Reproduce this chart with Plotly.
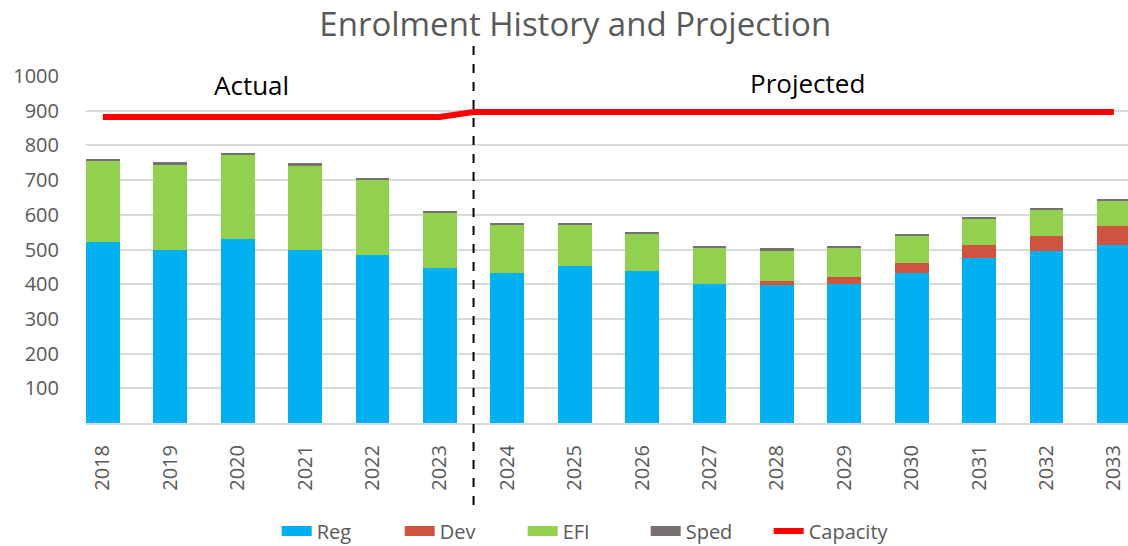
import plotly.graph_objects as go

years = [2018, 2019, 2020, 2021, 2022, 2023, 2024, 2025,
         2026, 2027, 2028, 2029, 2030, 2031, 2032, 2033]
reg = [522, 500, 529, 500, 484, 447, 432, 452, 438, 402, 397, 401, 433, 476, 495, 512]
dev = [0, 0, 0, 0, 0, 0, 0, 0, 0, 0, 11, 20, 27, 36, 45, 55]
efi = [232, 246, 242, 242, 215, 157, 138, 118, 106, 101, 88, 82, 79, 75, 73, 72]
sped = [6, 5, 6, 6, 6, 6, 6, 6, 6, 6, 7, 6, 5, 6, 6, 7]
capacity = [882, 882, 882, 882, 882, 882, 896, 896, 896, 896, 896, 896, 896, 896, 896, 896]
last_actual_year = 2023
y_ticks = [100, 200, 300, 400, 500, 600, 700, 800, 900, 1000]

FONT = "Open Sans"
GREY = "#595959"

n_act = years.index(last_actual_year) + 1
split = (years[n_act - 1] + years[n_act]) / 2

fig = go.Figure()
series = [("Reg", reg, "#00B0F0"), ("Dev", dev, "#CF5440"),
          ("EFI", efi, "#92D050"), ("Sped", sped, "#787070")]
for name, vals, col in series:
    fig.add_trace(go.Bar(x=years, y=vals, name=name, width=0.5, showlegend=False,
                         legendgroup=name,
                         marker=dict(color=col, line=dict(width=0))))
# legend swatches (wide rectangles like the reference)
for name, vals, col in series:
    fig.add_trace(go.Scatter(x=[None], y=[None], name=name, mode="lines",
                             legendgroup=name, line=dict(color=col, width=14)))

cap_x = years[:n_act] + [split] + years[n_act:]
cap_y = capacity[:n_act] + [capacity[n_act]] + capacity[n_act:]
fig.add_trace(go.Scatter(x=cap_x, y=cap_y, name="Capacity", mode="lines",
                         line=dict(color="#FF0000", width=6)))

fig.add_shape(type="line", xref="x", yref="paper", x0=split, x1=split,
              y0=-0.236, y1=1.104, line=dict(color="black", width=2, dash="dash"))

fig.add_annotation(x=2020.21, y=975, xref="x", yref="y", text="Actual",
                   showarrow=False, font=dict(family=FONT, size=26, color="black"))
fig.add_annotation(x=2028.46, y=980, xref="x", yref="y", text="Projected",
                   showarrow=False, font=dict(family=FONT, size=26, color="black"))

fig.update_layout(
    width=1128, height=546,
    margin=dict(l=86, r=0, t=76, b=123, autoexpand=False),
    barmode="stack",
    plot_bgcolor="white", paper_bgcolor="white",
    title=dict(text="Enrolment History and Projection", x=0.51, xanchor="center",
               y=0.955, yanchor="middle",
               font=dict(family=FONT, size=33, color=GREY)),
    showlegend=True,
    legend=dict(orientation="h", x=0.183, xanchor="left", y=-0.311, yanchor="middle",
                entrywidth=78, entrywidthmode="pixels",
                font=dict(family=FONT, size=20, color=GREY), traceorder="normal"),
    xaxis=dict(range=[2017.75, 2033.21], tickvals=years, ticktext=[str(y) for y in years],
               tickangle=-90, showgrid=False, zeroline=False,
               showline=True, linecolor="#d9d9d9", linewidth=2,
               ticks="outside", ticklen=12, tickcolor="white",
               tickfont=dict(family=FONT, size=20, color=GREY)),
    yaxis=dict(range=[0, 1000], tickvals=y_ticks, showgrid=True, gridcolor="#d9d9d9",
               gridwidth=2, zeroline=False, ticklabelstandoff=26,
               tickfont=dict(family=FONT, size=20, color=GREY)),
)

fig.write_html("out.html", config={"displayModeBar": False},
               post_script="document.body.style.margin='0';")
